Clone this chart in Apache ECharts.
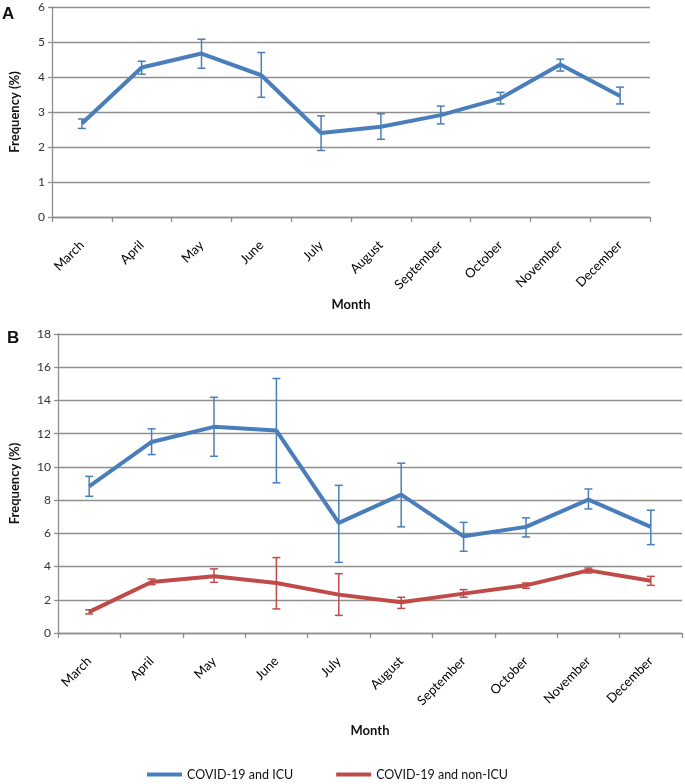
<!DOCTYPE html>
<html>
<head>
<meta charset="utf-8">
<script src="https://cdn.jsdelivr.net/npm/echarts@6/dist/echarts.min.js"></script>
<style>
  html, body { margin: 0; padding: 0; background: #fff; }
  #chart { width: 685px; height: 784px; }
</style>
</head>
<body>
<div id="chart"></div>
<script>
// ---- Data ----
const months = ['March','April','May','June','July','August','September','October','November','December'];

// Panel A: COVID-19 and ICU (overall)
const aValues = [2.67, 4.27, 4.67, 4.05, 2.40, 2.58, 2.91, 3.39, 4.36, 3.46];
const aLow    = [2.53, 4.08, 4.25, 3.42, 1.90, 2.22, 2.66, 3.23, 4.17, 3.23];
const aHigh   = [2.80, 4.45, 5.08, 4.70, 2.89, 2.95, 3.17, 3.56, 4.51, 3.71];

// Panel B: COVID-19 and ICU
const icuValues = [8.83, 11.50, 12.41, 12.19, 6.63, 8.33, 5.82, 6.39, 8.03, 6.39];
const icuLow    = [8.23, 10.74, 10.64, 9.04, 4.25, 6.39, 4.92, 5.78, 7.47, 5.32];
const icuHigh   = [9.43, 12.29, 14.19, 15.32, 8.89, 10.22, 6.66, 6.93, 8.67, 7.39];

// Panel B: COVID-19 and non-ICU
const nonValues = [1.27, 3.07, 3.41, 3.01, 2.31, 1.85, 2.37, 2.87, 3.77, 3.15];
const nonLow    = [1.15, 2.91, 3.05, 1.45, 1.06, 1.48, 2.15, 2.69, 3.61, 2.87];
const nonHigh   = [1.40, 3.25, 3.86, 4.54, 3.57, 2.15, 2.61, 3.01, 3.91, 3.41];

const yTicksA = { min: 0, max: 6, interval: 1 };
const yTicksB = { min: 0, max: 18, interval: 2 };

const BLUE = '#4a7ebb';
const RED = '#be4b48';
const GRIDC = '#8e8e8e';
const FONT = 'Lato, "Open Sans", sans-serif';

function errData(low, high) {
  return low.map((l, i) => [i, l, high[i]]);
}
function errRender(color) {
  return function (params, api) {
    const lo = api.coord([api.value(0), api.value(1)]);
    const hi = api.coord([api.value(0), api.value(2)]);
    const x = lo[0], hw = 4;
    const st = { stroke: color, lineWidth: 1.5 };
    return {
      type: 'group',
      children: [
        { type: 'line', shape: { x1: x, y1: lo[1], x2: x, y2: hi[1] }, style: st },
        { type: 'line', shape: { x1: x - hw, y1: lo[1], x2: x + hw, y2: lo[1] }, style: st },
        { type: 'line', shape: { x1: x - hw, y1: hi[1], x2: x + hw, y2: hi[1] }, style: st }
      ]
    };
  };
}

function xAxisCfg(gridIndex, nameGap) {
  return {
    type: 'category', gridIndex, data: months, boundaryGap: true,
    name: 'Month', nameLocation: 'middle', nameGap,
    nameTextStyle: { fontFamily: FONT, fontWeight: 'bold', fontSize: 13, color: '#111' },
    axisLine: { show: true, lineStyle: { color: GRIDC, width: 1.3 } },
    axisTick: { show: true, length: 5, lineStyle: { color: GRIDC, width: 1.3 } },
    axisLabel: { rotate: 45, margin: 26, fontFamily: FONT, fontSize: 13, color: '#000', interval: 0 }
  };
}
function yAxisCfg(gridIndex, ticks, nameGap) {
  return {
    type: 'value', gridIndex, min: ticks.min, max: ticks.max, interval: ticks.interval,
    name: 'Frequency (%)', nameLocation: 'middle', nameGap,
    nameTextStyle: { fontFamily: FONT, fontWeight: 'bold', fontSize: 13, color: '#111' },
    axisLine: { show: true, lineStyle: { color: GRIDC, width: 1.3 } },
    axisTick: { show: true, length: 4, lineStyle: { color: GRIDC, width: 1.3 } },
    axisLabel: { margin: 7, fontFamily: FONT, fontSize: 12, color: '#333' },
    splitLine: { show: true, lineStyle: { color: GRIDC, width: 1.3 } }
  };
}

const chart = echarts.init(document.getElementById('chart'), null, { renderer: 'canvas' });
chart.setOption({
  animation: false,
  backgroundColor: '#fff',
  title: [
    { text: 'A', left: 2, top: 6, padding: 0, textStyle: { fontFamily: '"Liberation Sans", Arial, sans-serif', fontWeight: 'bold', fontSize: 17, color: '#111' } },
    { text: 'B', left: 7, top: 330, padding: 0, textStyle: { fontFamily: '"Liberation Sans", Arial, sans-serif', fontWeight: 'bold', fontSize: 17, color: '#111' } }
  ],
  legend: {
    left: 147, top: 768, padding: 0,
    itemWidth: 35, itemHeight: 4, itemGap: 43,
    icon: 'rect',
    textStyle: { fontFamily: FONT, fontSize: 12.5, color: '#111' },
    data: ['COVID-19 and ICU', 'COVID-19 and non-ICU']
  },
  grid: [
    { left: 45, right: 35, top: 7, height: 210, containLabel: false },
    { left: 53, right: 3, top: 334, height: 299, containLabel: false }
  ],
  xAxis: [xAxisCfg(0, 81), xAxisCfg(1, 91)],
  yAxis: [yAxisCfg(0, yTicksA, 31), yAxisCfg(1, yTicksB, 37)],
  series: [
    { name: 'A', type: 'line', xAxisIndex: 0, yAxisIndex: 0, data: aValues, showSymbol: false,
      lineStyle: { color: BLUE, width: 4 }, itemStyle: { color: BLUE }, z: 3 },
    { type: 'custom', xAxisIndex: 0, yAxisIndex: 0, data: errData(aLow, aHigh), renderItem: errRender(BLUE), z: 4 },
    { name: 'COVID-19 and ICU', type: 'line', xAxisIndex: 1, yAxisIndex: 1, data: icuValues, showSymbol: false,
      lineStyle: { color: BLUE, width: 4 }, itemStyle: { color: BLUE }, z: 3 },
    { type: 'custom', xAxisIndex: 1, yAxisIndex: 1, data: errData(icuLow, icuHigh), renderItem: errRender(BLUE), z: 4 },
    { name: 'COVID-19 and non-ICU', type: 'line', xAxisIndex: 1, yAxisIndex: 1, data: nonValues, showSymbol: false,
      lineStyle: { color: RED, width: 4 }, itemStyle: { color: RED }, z: 3 },
    { type: 'custom', xAxisIndex: 1, yAxisIndex: 1, data: errData(nonLow, nonHigh), renderItem: errRender(RED), z: 4 }
  ]
});
</script>
</body>
</html>
